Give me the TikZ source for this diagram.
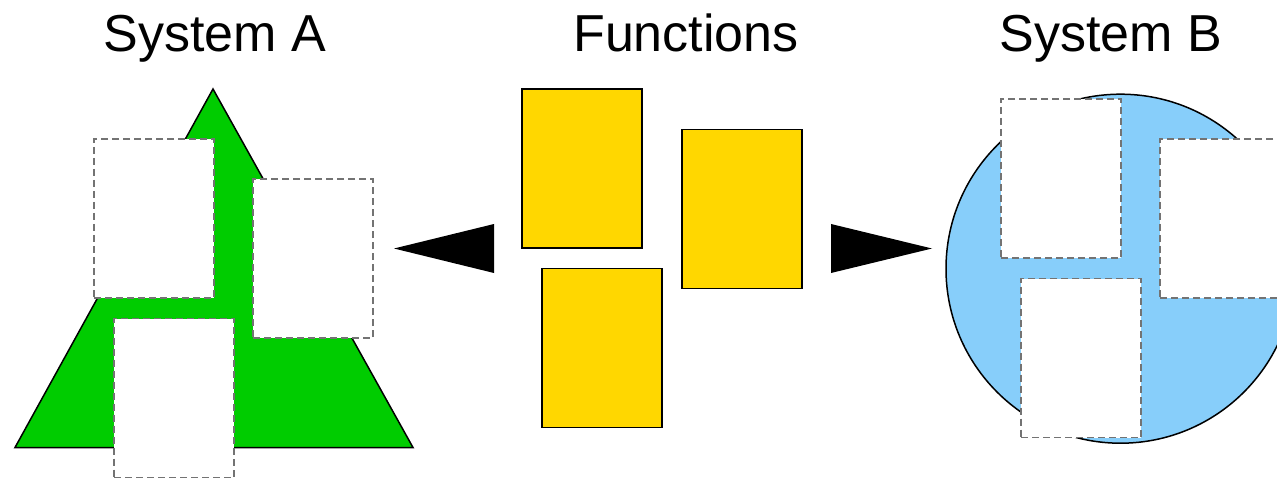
\documentclass[tikz,border=0pt]{standalone}
\usepackage{fontspec}
\setmainfont{Liberation Sans}
\definecolor{sysgreen}{RGB}{0,204,0}
\definecolor{sysblue}{RGB}{135,206,250}
\definecolor{fgold}{RGB}{255,215,0}
\begin{document}
\begin{tikzpicture}[x=1pt,y=-1pt,
  title/.style={anchor=base,font=\fontsize{52}{60}\selectfont,inner sep=0pt},
  slot/.style={draw=black!55,fill=white,line width=1.3pt,dash pattern=on 7pt off 4pt,
    minimum width=120pt,minimum height=159pt,inner sep=0pt,outer sep=0pt},
  func/.style={draw=black,fill=fgold,line width=1.5pt,
    minimum width=120pt,minimum height=159pt,inner sep=0pt,outer sep=0pt},
  pointer/.style={fill=black}]
\useasboundingbox (0,0) rectangle (1277,481);
\clip (0,0) rectangle (1277,481);
% titles
\node[title] (tA) at (215,52) {System A};
\node[title] (tF) at (686,52) {Functions};
\node[title] (tB) at (1111,52) {System B};
% System A shape
\draw[fill=sysgreen,line width=1.5pt,line join=miter] (213,89) -- (413,447.5) -- (15,447.5) -- cycle;
\node[slot] (a1) at (154,218.5) {};
\node[slot] (a2) at (313,258.5) {};
\node[slot] (a3) at (174,398) {};
% Functions
\node[func] (f1) at (582,168.5) {};
\node[func] (f2) at (742,209) {};
\node[func] (f3) at (602,348) {};
% arrows
\coordinate (lt) at (394,248.5);
\fill[pointer] (lt) -- (494,224) -- (494,273) -- cycle;
\coordinate (rt) at (932,248.5);
\fill[pointer] (rt) -- (831,224) -- (831,273) -- cycle;
% System B shape
\draw[fill=sysblue,line width=1.5pt] (1120.5,268.7) circle (174.5);
\node[slot] (b1) at (1061,178.5) {};
\node[slot] (b2) at (1220,218.5) {};
\node[slot] (b3) at (1081,358) {};
\end{tikzpicture}
\end{document}
